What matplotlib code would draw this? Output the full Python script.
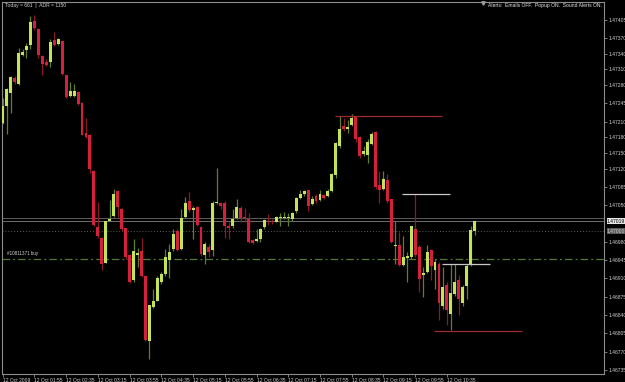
import matplotlib
matplotlib.use("Agg")
from matplotlib import pyplot as plt
from matplotlib import font_manager

# M5 candles, 12 Oct 2009 01:15 .. 11:10
opens = [
    1.47208, 1.47240, 1.47265, 1.47294, 1.47283, 1.47338, 1.47348, 1.47357, 1.47402, 1.47387,
    1.47335, 1.47324, 1.47324, 1.47367, 1.47359, 1.47364, 1.47299, 1.47259, 1.47260, 1.47266,
    1.47246, 1.47189, 1.47185, 1.47116, 1.47009, 1.46988, 1.46939, 1.47020, 1.47030, 1.47077,
    1.47042, 1.47006, 1.46955, 1.46906, 1.46955, 1.46962, 1.46915, 1.46791, 1.46856, 1.46867,
    1.46904, 1.46918, 1.46946, 1.46966, 1.47000, 1.46966, 1.47028, 1.47058, 1.47041, 1.47047,
    1.47009, 1.46954, 1.46971, 1.46965, 1.47055, 1.47054, 1.47054, 1.47011, 1.47011, 1.47026,
    1.47045, 1.47027, 1.47024, 1.46984, 1.46982, 1.46986, 1.47009, 1.47020, 1.47020, 1.47018,
    1.47026, 1.47025, 1.47025, 1.47023, 1.47039, 1.47064, 1.47071, 1.47079, 1.47052, 1.47068,
    1.47060, 1.47069, 1.47068, 1.47077, 1.47107, 1.47163, 1.47201, 1.47195, 1.47204, 1.47220,
    1.47181, 1.47148, 1.47147, 1.47168, 1.47190, 1.47088, 1.47082, 1.47098, 1.47061, 1.46972,
    1.46973, 1.46936, 1.46949, 1.46951, 1.47005, 1.46970, 1.46916, 1.46923, 1.46965, 1.46927,
    1.46938, 1.46858, 1.46898, 1.46842, 1.46881, 1.46906, 1.46863, 1.46896, 1.46936, 1.47001]

highs = [
    1.47255, 1.47275, 1.47297, 1.47297, 1.47351, 1.47349, 1.47360, 1.47413, 1.47414, 1.47389,
    1.47338, 1.47329, 1.47368, 1.47381, 1.47370, 1.47367, 1.47300, 1.47285, 1.47283, 1.47268,
    1.47247, 1.47217, 1.47187, 1.47117, 1.47056, 1.46989, 1.47019, 1.47060, 1.47082, 1.47079,
    1.47044, 1.47007, 1.46957, 1.46985, 1.46969, 1.46988, 1.46916, 1.46860, 1.46890, 1.46915,
    1.46922, 1.46966, 1.46976, 1.47004, 1.47004, 1.47042, 1.47065, 1.47075, 1.47049, 1.47049,
    1.47011, 1.46979, 1.46976, 1.47058, 1.47122, 1.47056, 1.47058, 1.47017, 1.47042, 1.47061,
    1.47048, 1.47045, 1.47036, 1.46985, 1.47004, 1.47007, 1.47023, 1.47033, 1.47023, 1.47029,
    1.47036, 1.47037, 1.47036, 1.47037, 1.47066, 1.47079, 1.47080, 1.47080, 1.47068, 1.47071,
    1.47080, 1.47071, 1.47082, 1.47111, 1.47171, 1.47220, 1.47217, 1.47214, 1.47225, 1.47221,
    1.47182, 1.47163, 1.47176, 1.47190, 1.47192, 1.47115, 1.47115, 1.47109, 1.47062, 1.47020,
    1.46998, 1.46991, 1.46960, 1.47011, 1.47071, 1.46973, 1.46931, 1.46974, 1.46966, 1.46947,
    1.46941, 1.46931, 1.46903, 1.46938, 1.46938, 1.46916, 1.46898, 1.46938, 1.47011, 1.47020]

lows = [
    1.47205, 1.47187, 1.47227, 1.47283, 1.47281, 1.47335, 1.47332, 1.47349, 1.47386, 1.47332,
    1.47300, 1.47316, 1.47315, 1.47354, 1.47357, 1.47300, 1.47255, 1.47257, 1.47257, 1.47241,
    1.47184, 1.47179, 1.47112, 1.47011, 1.46988, 1.46927, 1.46939, 1.47019, 1.47028, 1.47027,
    1.47001, 1.46947, 1.46902, 1.46904, 1.46931, 1.46913, 1.46790, 1.46755, 1.46853, 1.46866,
    1.46899, 1.46915, 1.46910, 1.46963, 1.46963, 1.46965, 1.47025, 1.47038, 1.46986, 1.47011,
    1.46953, 1.46937, 1.46950, 1.46953, 1.47052, 1.47042, 1.46988, 1.46985, 1.47007, 1.47023,
    1.47017, 1.47017, 1.46977, 1.46975, 1.46980, 1.46980, 1.47004, 1.47013, 1.47015, 1.47017,
    1.47010, 1.47023, 1.47010, 1.47020, 1.47036, 1.47061, 1.47068, 1.47039, 1.47050, 1.47055,
    1.47058, 1.47062, 1.47066, 1.47075, 1.47103, 1.47160, 1.47192, 1.47188, 1.47201, 1.47172,
    1.47141, 1.47145, 1.47130, 1.47166, 1.47082, 1.47055, 1.47079, 1.47055, 1.46977, 1.46938,
    1.46933, 1.46933, 1.46903, 1.46947, 1.46951, 1.46884, 1.46874, 1.46921, 1.46906, 1.46890,
    1.46830, 1.46852, 1.46820, 1.46811, 1.46877, 1.46839, 1.46858, 1.46871, 1.46933, 1.46993]

closes = [
    1.47240, 1.47273, 1.47296, 1.47286, 1.47341, 1.47344, 1.47355, 1.47400, 1.47389, 1.47338,
    1.47321, 1.47319, 1.47363, 1.47357, 1.47368, 1.47302, 1.47257, 1.47269, 1.47269, 1.47243,
    1.47185, 1.47181, 1.47119, 1.47012, 1.46992, 1.46937, 1.47019, 1.47023, 1.47072, 1.47046,
    1.47004, 1.46950, 1.46904, 1.46962, 1.46958, 1.46915, 1.46792, 1.46860, 1.46866, 1.46910,
    1.46918, 1.46950, 1.46961, 1.46995, 1.46965, 1.47025, 1.47055, 1.47040, 1.47044, 1.47012,
    1.46956, 1.46976, 1.46960, 1.47055, 1.47057, 1.47049, 1.47011, 1.47007, 1.47023, 1.47047,
    1.47026, 1.47026, 1.46980, 1.46977, 1.46985, 1.47005, 1.47021, 1.47017, 1.47017, 1.47027,
    1.47027, 1.47028, 1.47028, 1.47036, 1.47063, 1.47071, 1.47077, 1.47048, 1.47061, 1.47058,
    1.47071, 1.47064, 1.47077, 1.47109, 1.47169, 1.47196, 1.47196, 1.47200, 1.47217, 1.47176,
    1.47144, 1.47153, 1.47171, 1.47187, 1.47085, 1.47080, 1.47101, 1.47058, 1.46979, 1.46974,
    1.46936, 1.46951, 1.46952, 1.47010, 1.46954, 1.46909, 1.46921, 1.46960, 1.46933, 1.46942,
    1.46862, 1.46893, 1.46849, 1.46882, 1.46904, 1.46870, 1.46893, 1.46933, 1.47003, 1.47019]

timeLabels = ["12 Oct 2009", "12 Oct 01:55", "12 Oct 02:35", "12 Oct 03:15", "12 Oct 03:55",
              "12 Oct 04:35", "12 Oct 05:15", "12 Oct 05:55", "12 Oct 06:35", "12 Oct 07:15",
              "12 Oct 07:55", "12 Oct 08:35", "12 Oct 09:15", "12 Oct 09:55", "12 Oct 10:35"]
barsPerLabel = 8

priceTicks = [1.47405, 1.47370, 1.47340, 1.47310, 1.47280, 1.47245, 1.47210, 1.47180,
              1.47150, 1.47120, 1.47085, 1.47050, 1.46980, 1.46945, 1.46910, 1.46875,
              1.46840, 1.46805, 1.46770, 1.46735]

askPrice = 1.47025
bidPrice = 1.47019
dottedLevel = 1.47000
buyPrice = 1.46948
buyLabel = "#10811371 buy"

# drawn trend/level segments: price, first bar, last bar, colour
segPrices = [1.47221, 1.47071, 1.46937, 1.46810]
segStart = [83.8, 100.7, 110.8, 108.8]
segEnd = [110.8, 112.8, 122.9, 131.0]
segColors = ["#a02a2a", "#c8c8c8", "#c8c8c8", "#a02a2a"]

BULL = "#c4e25a"
BEAR = "#d5203d"
BULL_WICK = "#5e7f2c"
BEAR_WICK = "#8a1a28"
TEXT = "#cfcfcf"
FRAME = "#8c8c8c"

names = set(font_manager.get_font_names())
if "Liberation Sans Narrow" in names:
    plt.rcParams["font.family"] = "Liberation Sans Narrow"
    fs = 4.5
else:
    plt.rcParams["font.family"] = "Liberation Sans"
    fs = 3.6

fig = plt.figure(figsize=(6.25, 3.82), dpi=100, facecolor="black")
ax = fig.add_axes([2 / 625, 8 / 382, 602 / 625, 372 / 382])
ax.set_facecolor("black")

idx = list(range(len(opens)))
bodyBottom = [min(o, c) for o, c in zip(opens, closes)]
bodyHeight = [max(abs(c - o), 0.000012) for o, c in zip(opens, closes)]
isBull = [c >= o for o, c in zip(opens, closes)]

ax.vlines(idx, lows, highs, colors=[BULL_WICK if b else BEAR_WICK for b in isBull], lw=0.9, zorder=3)
ax.bar(idx, bodyHeight, bottom=bodyBottom, width=0.74,
       color=[BULL if b else BEAR for b in isBull], linewidth=0, zorder=4)

# price lines
ax.axhline(askPrice, color="#5c5c5c", lw=0.7, zorder=2)
ax.axhline(bidPrice, color="#6e6e6e", lw=0.7, zorder=2)
ax.axhline(dottedLevel, color="#5a5a5a", lw=0.7, ls=(0, (1, 2)), zorder=2)
ax.axhline(buyPrice, color="#4f7d30", lw=0.9, ls=(0, (6, 2.5, 1.5, 2.5)), zorder=2)
ax.text(1, buyPrice + 0.00004, buyLabel, color=TEXT, fontsize=fs - 0.3, va="bottom", ha="left")

for p, s, e, col in zip(segPrices, segStart, segEnd, segColors):
    ax.hlines(p, s, e, colors=col, lw=0.9, zorder=5)

ax.set_xlim(-0.17, 151.6)
ax.set_ylim(1.46727, 1.47439)

for side in ["left", "right", "bottom", "top"]:
    ax.spines[side].set_color(FRAME)
    ax.spines[side].set_linewidth(0.8)

ax.yaxis.tick_right()
ax.set_yticks(priceTicks)
ax.set_yticklabels(["%.5f" % p for p in priceTicks])
ax.tick_params(axis="y", colors=FRAME, labelcolor=TEXT, labelsize=fs, length=2, width=0.6, pad=1)

xt = [i * barsPerLabel for i in range(len(timeLabels))]
ax.set_xticks(xt)
ax.set_xticklabels(timeLabels, ha="left")
ax.tick_params(axis="x", colors=FRAME, labelcolor=TEXT, labelsize=fs, length=2.5, width=0.6, pad=0.3)

# current price box on the price scale
for p, fc, tc in [(bidPrice, "#e6e6e6", "black"), (dottedLevel, "#5a5a5a", "#d0d0d0")]:
    ax.annotate("%.5f" % p, xy=(1.0, p), xycoords=("axes fraction", "data"),
                xytext=(2.2, 0), textcoords="offset points", va="center", ha="left",
                fontsize=fs, color=tc,
                bbox=dict(boxstyle="square,pad=0.1", fc=fc, ec="none"))

fig.text(5 / 625, 1 - 6 / 382, "Today = 661  |  ADR = 1150", color=TEXT, fontsize=fs, va="center", ha="left")
fig.text(602 / 625, 1 - 6 / 382, "Alerts:  Emails OFF.  Popup ON.  Sound Alerts ON.",
         color="#e6e6e6", fontsize=fs, va="center", ha="right")
ax.plot([121.2], [1.47437], marker="v", ms=2.5, color="#9a9a9a", clip_on=False, zorder=6)

fig.savefig("out.png", dpi=100, facecolor="black")
